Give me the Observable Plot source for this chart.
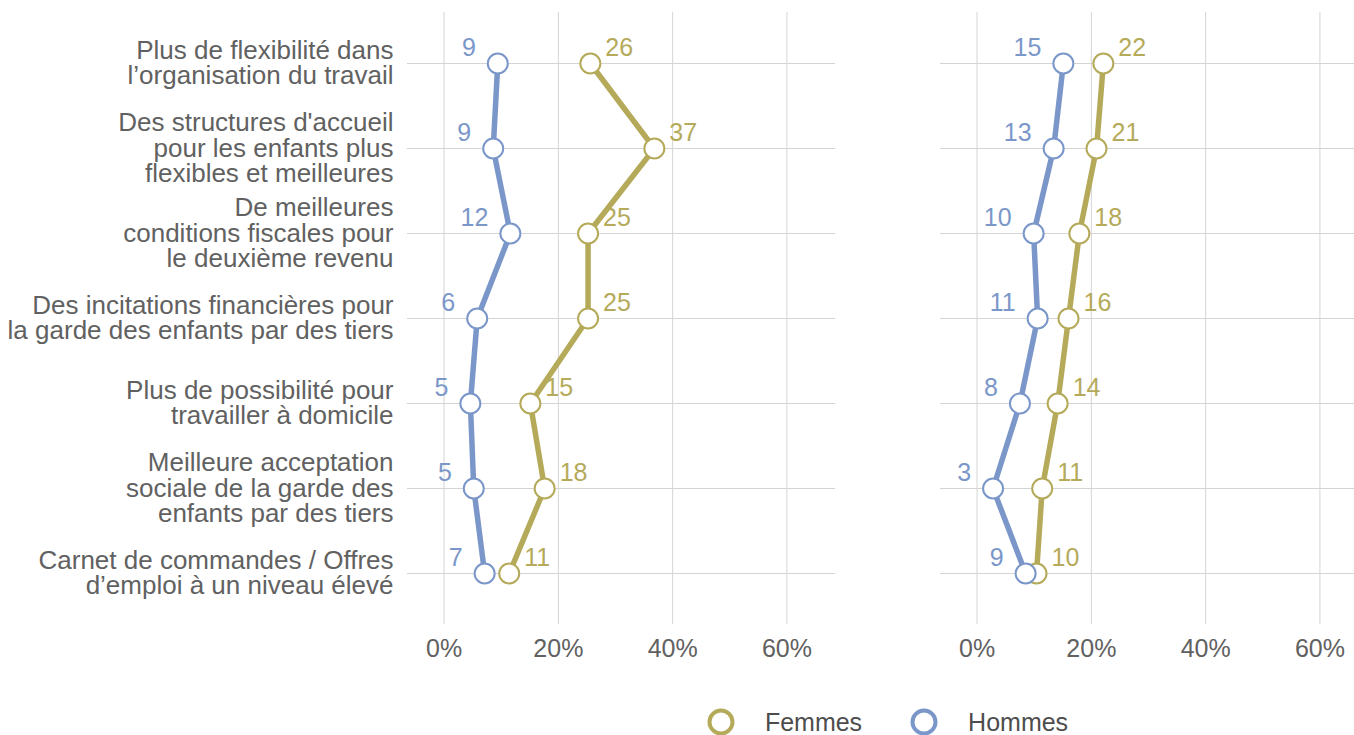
<!DOCTYPE html>
<html>
<head>
<meta charset="utf-8">
<script src="https://cdn.jsdelivr.net/npm/d3@7"></script>
<script src="https://cdn.jsdelivr.net/npm/@observablehq/plot@0.6"></script>
<style>
  html, body { margin: 0; padding: 0; background: #fff; overflow: hidden; }
  body { font-family: "Liberation Sans", Arial, Helvetica, sans-serif; width: 1369px; }
  #legend { display: flex; justify-content: center; align-items: center; margin-left: 406px; width: 963px; margin-top: 36px; height: 28px; }
  #legend .item { display: flex; align-items: center; }
  #legend .item span { font-size: 25px; color: #4d4d4d; margin-left: 30px; }
  #legend .item + .item { margin-left: 48px; }
</style>
</head>
<body>
<div id="chart"></div>
<div id="legend"></div>
<script>
const categories = [
  "Plus de flexibilité dans\nl’organisation du travail",
  "Des structures d'accueil\npour les enfants plus\nflexibles et meilleures",
  "De meilleures\nconditions fiscales pour\nle deuxième revenu",
  "Des incitations financières pour\nla garde des enfants par des tiers",
  "Plus de possibilité pour\ntravailler à domicile",
  "Meilleure acceptation\nsociale de la garde des\nenfants par des tiers",
  "Carnet de commandes / Offres\nd’emploi à un niveau élevé"
];
const panels = ["Gauche", "Droite"];
const series = ["Femmes", "Hommes"];
const seriesColors = ["#b5aa5a", "#7b97c9"];

const femmesGauche = [25.6, 36.8, 25.2, 25.2, 15.1, 17.6, 11.4];
const hommesGauche = [9.4, 8.6, 11.6, 5.8, 4.6, 5.2, 7.1];
const femmesDroite = [22.1, 20.9, 17.9, 16.0, 14.1, 11.4, 10.4];
const hommesDroite = [15.1, 13.4, 9.9, 10.6, 7.5, 2.8, 8.5];

const xTicks = [0, 20, 40, 60];

const data = [];
function add(panel, sexe, values) {
  values.forEach((v, i) => data.push({panel, sexe, cat: categories[i], value: v}));
}
add("Gauche", "Femmes", femmesGauche);
add("Gauche", "Hommes", hommesGauche);
add("Droite", "Femmes", femmesDroite);
add("Droite", "Hommes", hommesDroite);

const femmes = data.filter(d => d.sexe === "Femmes");
const hommes = data.filter(d => d.sexe === "Hommes");
const gridColor = "#d4d4d4";

const chart = Plot.plot({
  width: 1369,
  height: 672,
  marginLeft: 406,
  marginRight: 0,
  marginTop: 12,
  marginBottom: 48,
  style: {fontFamily: '"Liberation Sans", Arial, Helvetica, sans-serif', fontSize: "25px", color: "#616161", background: "white"},
  fx: {domain: panels, axis: null, paddingInner: 0.1966, paddingOuter: 0},
  x: {domain: [-6.4, 68.5]},
  y: {type: "point", domain: categories, padding: 0.6},
  color: {domain: series, range: seriesColors},
  marks: [
    Plot.gridX({ticks: xTicks, stroke: gridColor, strokeOpacity: 1}),
    Plot.gridY({stroke: gridColor, strokeOpacity: 1}),
    Plot.axisX({ticks: xTicks, tickFormat: d => d + "%", tickSize: 0, tickPadding: 15, fontSize: 25, label: null}),
    Plot.axisY({tickSize: 0, tickPadding: 14, fontSize: 26, lineHeight: 0.965, label: null}),
    Plot.line(data, {x: "value", y: "cat", z: "sexe", stroke: "sexe", fx: "panel", strokeWidth: 5.5}),
    Plot.dot(data, {x: "value", y: "cat", stroke: "sexe", fx: "panel", fill: "white", r: 10, strokeWidth: 2}),
    Plot.text(femmes, {x: "value", y: "cat", fx: "panel", text: d => Math.round(d.value), fill: seriesColors[0], dx: 15, dy: -16, textAnchor: "start", fontSize: 25}),
    Plot.text(hommes, {x: "value", y: "cat", fx: "panel", text: d => Math.round(d.value), fill: seriesColors[1], dx: -22, dy: -16, textAnchor: "end", fontSize: 25})
  ]
});
document.getElementById("chart").appendChild(chart);

const legend = document.getElementById("legend");
series.forEach((s, i) => {
  const item = document.createElement("div");
  item.className = "item";
  item.innerHTML = `<svg width="28" height="28"><circle cx="14" cy="14" r="11.5" fill="white" stroke="${seriesColors[i]}" stroke-width="4"></circle></svg><span>${s}</span>`;
  legend.appendChild(item);
});
</script>
</body>
</html>
